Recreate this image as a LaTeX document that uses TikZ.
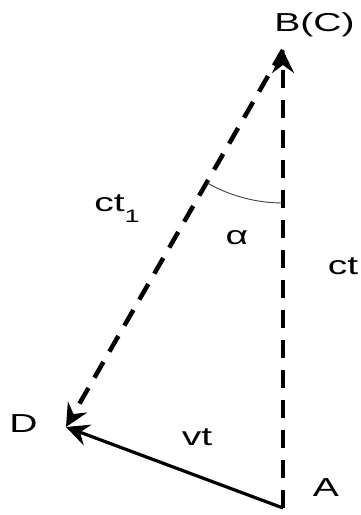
\documentclass[tikz,border=0pt]{standalone}
\usepackage{fontspec}
\setmainfont{Liberation Sans}
\usetikzlibrary{arrows.meta}
\begin{document}
\begin{tikzpicture}[x=1pt,y=1pt,
  lbl/.style={font=\fontsize{26}{30}\selectfont, anchor=base, inner sep=0pt, xscale=1.5},
  dline/.style={line width=4.5pt, dash pattern=on 18pt off 12pt},
  sline/.style={line width=3.2pt},
  tip/.style={-{Stealth[length=23pt,width=22pt,inset=8pt]}},
  anglearc/.style={line width=0.9pt, draw=black!75}]
\fill[white] (0,0) rectangle (360,515);
\useasboundingbox (0,0) rectangle (360,515);
\coordinate (A) at (283,7);
\coordinate (B) at (283,465);
\coordinate (D) at (66,88);
\draw[dline,tip] (A) -- (B);
\draw[dline,tip] (B) -- (D);
\draw[sline,tip] (A) -- (D);
\draw[anglearc] (B) ++(240.2:153) arc[start angle=240.2, end angle=270, radius=153];
\node[lbl] (lB) at (314.5,483) {B(C)};
\node[lbl] (lct1) at (117,303) {ct\raisebox{-11pt}{\fontsize{18}{20}\selectfont 1}};
\node[lbl] (lalpha) at (237,270) {α};
\node[lbl] (lct) at (343,240) {ct};
\node[lbl] (lD) at (23.5,82) {D};
\node[lbl] (lvt) at (197,70) {vt};
\node[lbl] (lA) at (326,18) {A};
\end{tikzpicture}
\end{document}
